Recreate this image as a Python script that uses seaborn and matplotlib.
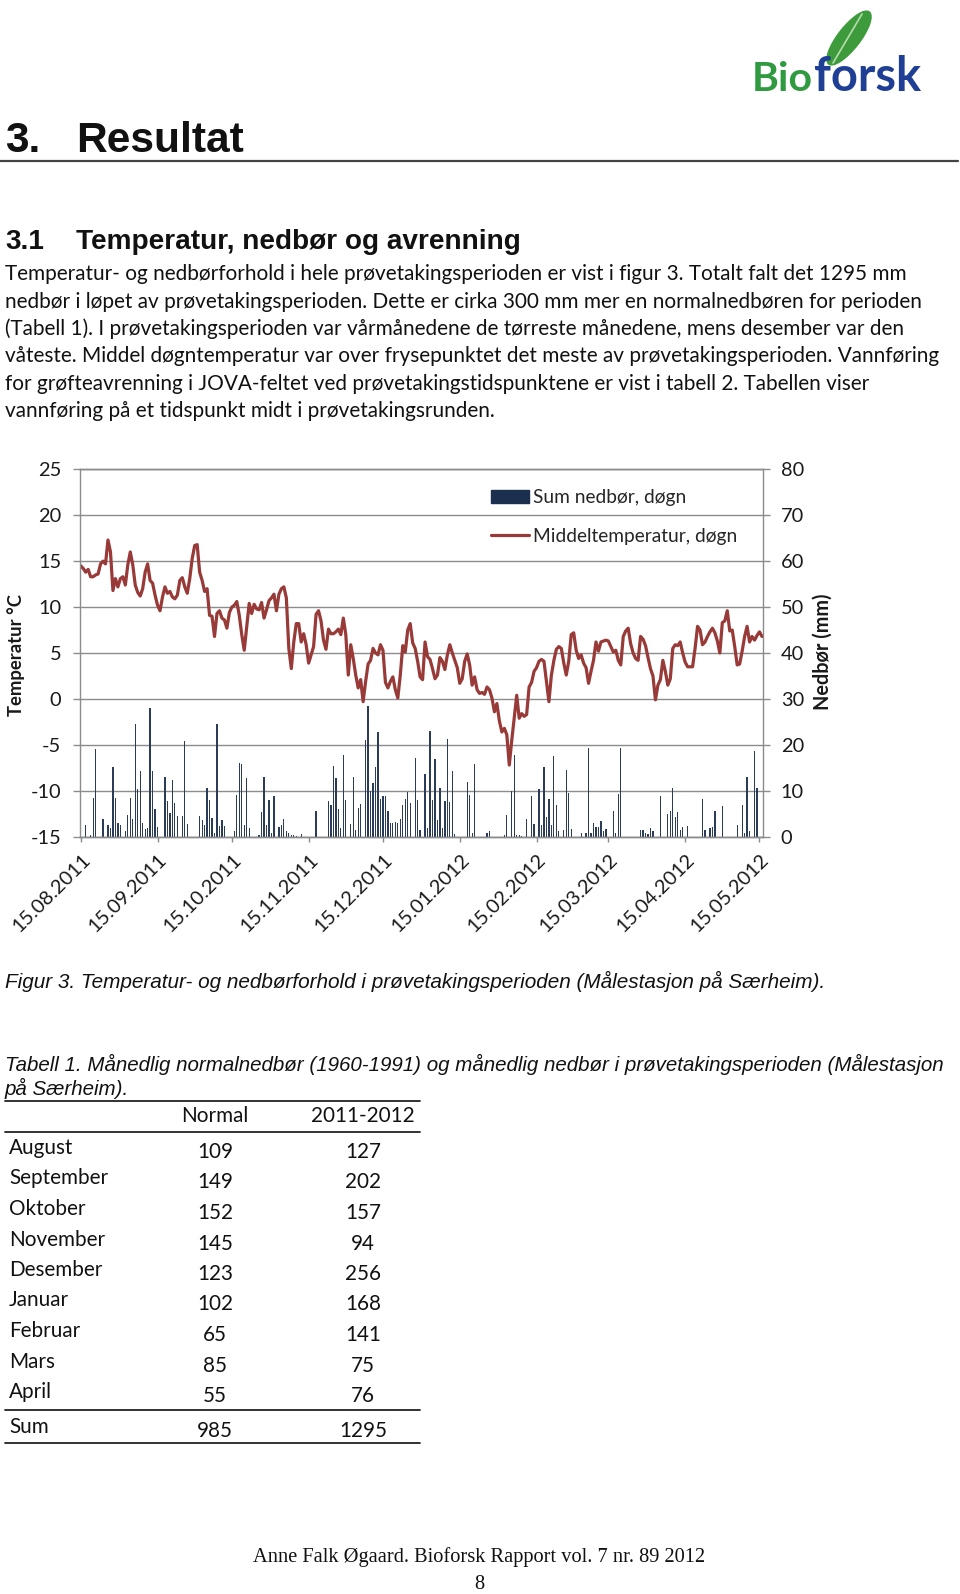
import numpy as np
import pandas as pd
import matplotlib
matplotlib.use("Agg")
import matplotlib.pyplot as plt
import seaborn as sns
from matplotlib.lines import Line2D
from matplotlib.patches import Patch, Ellipse
from matplotlib.transforms import ScaledTranslation

# ---------------- data ----------------
start_date = "2011-08-15"
# daily mean temperature (degC), 15.08.2011 - 16.05.2012
temp = [
    14.5, 14.2, 13.8, 14.1, 13.3, 13.3, 13.5, 13.6, 14.7, 15.0,
    14.7, 17.3, 16.0, 11.8, 13.1, 12.2, 13.1, 13.3, 12.4, 14.6,
    16.0, 14.6, 12.4, 11.6, 11.2, 12.0, 13.8, 14.7, 12.9, 12.6,
    11.3, 10.2, 9.6, 11.1, 12.2, 11.5, 11.7, 11.1, 10.9, 11.3,
    12.9, 13.2, 12.2, 11.5, 13.1, 15.3, 16.7, 16.8, 13.8, 12.9,
    11.7, 12.0, 9.1, 9.0, 6.8, 9.3, 9.6, 8.8, 8.6, 7.7,
    9.4, 10.0, 10.2, 10.6, 9.1, 7.0, 5.3, 7.8, 10.4, 9.3,
    10.3, 9.8, 9.7, 10.5, 8.8, 9.7, 10.7, 11.0, 11.4, 9.6,
    11.4, 12.0, 12.2, 11.0, 5.5, 3.3, 6.2, 8.2, 8.2, 6.2,
    7.1, 5.9, 3.9, 4.8, 5.7, 9.2, 9.6, 8.5, 6.4, 5.4,
    7.6, 7.1, 7.1, 7.3, 7.6, 7.0, 8.8, 7.0, 2.6, 5.9,
    4.4, 2.6, 1.2, 2.1, -0.3, 1.9, 3.8, 4.2, 5.5, 5.0,
    4.8, 5.9, 5.3, 1.8, 1.2, 1.9, 2.4, 1.0, 0.1, 2.6,
    5.8, 5.1, 7.5, 8.2, 6.1, 5.5, 4.1, 2.4, 2.1, 6.2,
    4.6, 4.3, 3.3, 2.2, 2.6, 4.5, 4.1, 3.2, 4.8, 5.9,
    5.0, 4.2, 3.4, 1.7, 2.2, 4.1, 4.9, 3.7, 1.5, 2.4,
    1.0, 0.6, 0.7, 0.5, 1.3, 1.0, 0.1, -1.4, -0.5, -2.4,
    -3.6, -3.2, -3.9, -7.2, -4.5, -2.0, 0.4, -2.1, -1.6, -1.9,
    -1.7, 1.3, 1.8, 3.0, 3.4, 4.1, 4.3, 4.1, 1.9, -0.3,
    2.6, 4.2, 5.4, 5.7, 5.5, 3.9, 2.6, 4.1, 7.0, 7.2,
    5.3, 4.4, 4.8, 3.9, 3.4, 1.7, 3.0, 4.2, 6.2, 5.2,
    6.2, 6.3, 6.4, 6.3, 5.7, 5.1, 5.3, 4.2, 3.7, 6.8,
    7.4, 7.7, 6.0, 5.0, 4.4, 4.2, 6.8, 6.5, 5.8, 4.5,
    3.3, 2.5, -0.1, 1.5, 2.1, 4.2, 3.0, 1.5, 2.2, 5.5,
    5.9, 5.8, 6.2, 5.0, 4.0, 3.5, 3.5, 3.5, 5.5, 7.9,
    7.5, 5.9, 6.2, 6.8, 7.3, 7.7, 7.2, 6.3, 5.0, 8.3,
    8.5, 9.6, 7.4, 7.5, 5.7, 3.7, 3.8, 5.2, 6.8, 7.9,
    6.2, 6.8, 6.4, 6.9, 7.3, 6.8,
]
# daily precipitation: day index (days after 15.08.2011) and mm
rain_day = [
    0, 2, 4, 5, 6, 9, 11, 12, 13, 14, 15, 16, 18, 19, 20, 21, 22, 23, 24, 25,
    26, 27, 28, 29, 30, 31, 34, 35, 36, 37, 38, 39, 41, 42, 43, 48, 49, 50, 51, 52,
    53, 54, 55, 56, 57, 58, 62, 63, 64, 65, 66, 67, 68, 72, 73, 74, 75, 76, 77, 78,
    80, 81, 82, 83, 84, 85, 86, 87, 89, 95, 100, 101, 102, 103, 104, 105, 106, 107, 109, 110,
    111, 112, 113, 115, 116, 117, 118, 119, 120, 121, 122, 123, 124, 125, 126, 127, 128, 129, 130, 131,
    132, 133, 135, 136, 137, 139, 140, 141, 142, 143, 144, 145, 146, 147, 148, 149, 150, 151, 156, 157,
    158, 159, 164, 165, 171, 172, 174, 175, 176, 177, 178, 180, 182, 183, 185, 186, 187, 188, 189, 190,
    191, 192, 193, 195, 196, 197, 198, 202, 204, 205, 206, 207, 208, 209, 210, 211, 212, 215, 216, 217,
    218, 226, 227, 228, 229, 230, 231, 234, 237, 238, 239, 240, 241, 242, 243, 245, 251, 252, 254, 255,
    256, 259, 265, 267, 268, 269, 270, 272, 273,
]
rain_mm = [
    0.8, 2.6, 0.4, 8.4, 19.0, 3.8, 2.6, 1.9, 15.1, 8.4, 3.0, 2.6, 1.2, 4.8, 8.4, 3.8, 24.6, 10.4, 14.2, 3.0,
    1.7, 2.0, 28.0, 14.2, 6.0, 2.2, 13.0, 7.7, 5.1, 12.4, 7.3, 4.4, 4.6, 20.9, 2.8, 4.6, 3.7, 2.6, 10.6, 8.0,
    4.1, 0.8, 24.6, 2.4, 3.6, 2.4, 1.2, 9.0, 16.1, 15.9, 2.6, 12.8, 1.9, 0.4, 5.4, 13.0, 2.5, 8.0, 0.8, 8.8,
    2.1, 2.6, 3.8, 1.3, 0.7, 0.4, 0.3, 0.2, 0.6, 5.5, 7.8, 6.8, 15.3, 12.8, 6.1, 1.9, 17.7, 7.9, 2.8, 13.1,
    1.4, 6.2, 7.1, 21.1, 28.5, 10.0, 11.7, 15.1, 22.8, 8.2, 8.8, 8.8, 5.5, 3.0, 3.0, 3.3, 3.0, 3.8, 6.8, 8.2,
    9.7, 7.3, 17.1, 8.0, 1.5, 13.6, 2.0, 23.1, 7.9, 17.0, 3.7, 10.7, 1.9, 7.8, 21.2, 7.5, 14.2, 0.6, 12.0, 9.1,
    0.8, 15.8, 0.8, 1.2, 0.3, 4.8, 9.9, 17.8, 0.3, 0.3, 0.2, 3.9, 8.8, 2.8, 10.4, 2.6, 15.1, 4.2, 8.3, 2.6,
    17.6, 6.8, 1.3, 1.4, 14.6, 9.5, 1.7, 0.9, 0.9, 19.3, 0.9, 3.0, 2.1, 2.1, 3.5, 1.2, 1.7, 5.5, 0.8, 9.3,
    19.3, 1.5, 1.4, 0.8, 0.6, 1.9, 1.3, 8.8, 4.9, 5.5, 10.7, 4.2, 5.3, 1.5, 2.2, 2.4, 8.3, 1.4, 2.0, 2.1,
    5.5, 6.6, 2.5, 6.8, 0.8, 13.0, 1.3, 18.7, 10.6,
]
x_tick_labels = ["15.08.2011", "15.09.2011", "15.10.2011", "15.11.2011", "15.12.2011",
                 "15.01.2012", "15.02.2012", "15.03.2012", "15.04.2012", "15.05.2012"]
temp_ticks = [-15, -10, -5, 0, 5, 10, 15, 20, 25]
rain_ticks = [0, 10, 20, 30, 40, 50, 60, 70, 80]
legend_labels = ["Sum nedbør, døgn", "Middeltemperatur, døgn"]

table_months = ["August", "September", "Oktober", "November", "Desember",
                "Januar", "Februar", "Mars", "April"]
table_normal = [109, 149, 152, 145, 123, 102, 65, 85, 55]
table_2011 = [127, 202, 157, 94, 256, 168, 141, 75, 76]
table_sum = [985, 1295]

paragraph = [
    "Temperatur- og nedbørforhold i hele prøvetakingsperioden er vist i figur 3. Totalt falt det 1295 mm",
    "nedbør i løpet av prøvetakingsperioden. Dette er cirka 300 mm mer en normalnedbøren for perioden",
    "(Tabell 1). I prøvetakingsperioden var vårmånedene de tørreste månedene, mens desember var den",
    "våteste. Middel døgntemperatur var over frysepunktet det meste av prøvetakingsperioden. Vannføring",
    "for grøfteavrenning i JOVA-feltet ved prøvetakingstidspunktene er vist i tabell 2. Tabellen viser",
    "vannføring på et tidspunkt midt i prøvetakingsrunden.",
]

# ---------------- figure ----------------
W, H = 960, 1594
sns.set_theme(style="white")
plt.rcParams['font.family'] = ['Lato', 'DejaVu Sans']

fig = plt.figure(figsize=(9.6, 15.94), dpi=100)
fig.patch.set_facecolor("white")
renderer = fig.canvas.get_renderer()

def fx(px):
    return px / W

def fy(py):
    return 1 - py / H

def fit_size(s, target, size=12, **kw):
    t = fig.text(0, 0, s, fontsize=size, **kw)
    w = t.get_window_extent(renderer).width
    t.remove()
    return size * target / w

def put(x, y, s, width=None, size=12, rot=0, **kw):
    if width is not None:
        size = fit_size(s, width, size, **{k: v for k, v in kw.items() if k in ("family", "weight", "style")})
    return fig.text(fx(x), fy(y), s, fontsize=size, rotation=rot, **kw)

# overlay for page decorations (pixel coordinates)
over = fig.add_axes([0, 0, 1, 1])
over.set_xlim(0, W)
over.set_ylim(H, 0)
over.axis("off")
over.patch.set_visible(False)

# ---- logo ----
over.add_patch(Ellipse((849, 38), 22, 66, angle=38, color="#3d9b3c"))
over.plot([833, 862], [63, 14], color="#b8dcb0", lw=1.2)
put(752, 91, "Bio", width=61, size=30, weight="bold", color="#2f9a40", family=["Lato", "DejaVu Sans"])
put(814, 91, "forsk", width=107, size=30, weight="bold", color="#1e3f94", family=["Lato", "DejaVu Sans"])

# ---- headings ----
head_family = ["Liberation Sans", "DejaVu Sans"]
hs = fit_size("Resultat", 168, 30, family=head_family, weight="bold")
put(5, 152, "3.", size=hs, weight="bold", family=head_family, color="#111111", va="baseline")
put(76, 152, "Resultat", size=hs, weight="bold", family=head_family, color="#111111", va="baseline")
over.plot([0, 958], [161, 161], color="#444444", lw=1.6)

h2 = fit_size("Temperatur, nedbør og avrenning", 446, 18, family=head_family, weight="bold")
put(5, 249, "3.1", size=h2, weight="bold", family=head_family, color="#111111", va="baseline")
put(76, 249, "Temperatur, nedbør og avrenning", size=h2, weight="bold", family=head_family,
    color="#111111", va="baseline")

ps = fit_size(paragraph[3], 935, 14)
for i, line in enumerate(paragraph):
    put(5, 280.5 + i * 27.3, line, size=ps, color="#111111", va="baseline")

# ---------------- chart ----------------
L, R, T, B = 80, 762.7, 469.3, 836.7
ax_t = fig.add_axes([fx(L), fy(B), (R - L) / W, (B - T) / H])
ax_r = ax_t.twinx()
ax_t.set_zorder(3)
ax_t.patch.set_visible(False)

bar_c = "#2a3c58"
legend_bar_c = "#1b2f4f"
line_c = "#983a38"
grid_c = "#8c8c8c"

days = np.arange(len(temp))
tick_pos = (pd.to_datetime(x_tick_labels, format="%d.%m.%Y") - pd.to_datetime(start_date)).days

sns.barplot(x=rain_day, y=rain_mm, native_scale=True, orient="x", width=0.5,
            color=bar_c, saturation=1, errorbar=None, linewidth=0, ax=ax_r)
sns.lineplot(x=days, y=temp, color=line_c, linewidth=2.3, legend=False, ax=ax_t)

ax_t.set_xlim(-0.3, 275.3)
ax_t.set_ylim(-15, 25)
ax_r.set_ylim(0, 80)
for a in (ax_t, ax_r):
    a.set_xlabel("")
    a.set_ylabel("")

ax_r.yaxis.grid(True, color=grid_c, lw=1.0)
ax_r.set_axisbelow(True)
ax_t.grid(False)

tfs = fit_size("15.08.2011", 102, 12)
ax_t.set_yticks(temp_ticks, labels=[str(v) for v in temp_ticks])
ax_r.set_yticks(rain_ticks, labels=[str(v) for v in rain_ticks])
ax_t.set_xticks(tick_pos, labels=x_tick_labels, rotation=45, ha="right", rotation_mode="anchor")

ax_t.tick_params(axis="y", direction="out", length=5, width=1, color=grid_c, pad=8.5,
                 labelsize=tfs, labelcolor="#1a1a1a", left=True)
ax_r.tick_params(axis="y", direction="out", length=5, width=1, color=grid_c, pad=8,
                 labelsize=tfs, labelcolor="#1a1a1a", right=True)
ax_t.tick_params(axis="x", direction="out", length=3.5, width=1, color=grid_c, pad=7,
                 labelsize=tfs, labelcolor="#1a1a1a", bottom=True)
for lbl in ax_t.get_xticklabels():
    lbl.set_transform(lbl.get_transform() + ScaledTranslation(0.5 / 100, 0, fig.dpi_scale_trans))

for a in (ax_t, ax_r):
    for s in a.spines.values():
        s.set_color(grid_c)
        s.set_linewidth(1.0)
ax_t.spines["right"].set_visible(False)
ax_r.spines["left"].set_visible(False)

lfs = fit_size(legend_labels[1], 204, 12)
lfs_px = lfs * 100 / 72
handles = [Patch(color=legend_bar_c), Line2D([], [], color=line_c, lw=2.3)]
fig.legend(handles, legend_labels, loc="upper left", bbox_to_anchor=(fx(491), fy(489)),
           frameon=False, fontsize=lfs, handlelength=38 / lfs_px, handletextpad=4 / lfs_px,
           labelspacing=1.15, borderpad=0, borderaxespad=0)

put(16, 655, "Temperatur °C", size=fit_size("Temperatur °C", 122, 12, weight="bold"),
    rot=90, weight="bold", ha="center", va="center", color="#1a1a1a")
put(823, 652, "Nedbør (mm)", size=fit_size("Nedbør (mm)", 116, 12, weight="bold"),
    rot=90, weight="bold", ha="center", va="center", color="#1a1a1a")

# ---------------- caption & table ----------------
cap_family = ["Liberation Sans", "DejaVu Sans"]
put(5, 988, "Figur 3. Temperatur- og nedbørforhold i prøvetakingsperioden (Målestasjon på Særheim).",
    width=824, size=14, style="italic", family=cap_family, color="#111111", va="baseline")
cs = fit_size("Tabell 1. Månedlig normalnedbør (1960-1991) og månedlig nedbør i prøvetakingsperioden (Målestasjon",
              945, 14, style="italic", family=cap_family)
put(5, 1071, "Tabell 1. Månedlig normalnedbør (1960-1991) og månedlig nedbør i prøvetakingsperioden (Målestasjon",
    size=cs, style="italic", family=cap_family, color="#111111", va="baseline")
put(5, 1095, "på Særheim).", size=cs, style="italic", family=cap_family, color="#111111", va="baseline")

for yy in (1101, 1132, 1409.5, 1443):
    over.plot([5, 420], [yy, yy], color="#222222", lw=1.3)

tbs = fit_size("September", 99, 14)
put(215, 1122, "Normal", size=tbs, ha="center", va="baseline", color="#111111")
put(363, 1122, "2011-2012", size=tbs, ha="center", va="baseline", color="#111111")
for i, (m, n, v) in enumerate(zip(table_months, table_normal, table_2011)):
    yb = 1154 + i * 30.5
    put(9, yb, m, size=tbs, va="baseline", color="#111111")
    put(215, yb + 4, str(n), size=tbs, ha="center", va="baseline", color="#111111")
    put(363, yb + 4, str(v), size=tbs, ha="center", va="baseline", color="#111111")
put(9, 1433, "Sum", size=tbs, va="baseline", color="#111111")
put(215, 1437, str(table_sum[0]), size=tbs, ha="center", va="baseline", color="#111111")
put(363, 1437, str(table_sum[1]), size=tbs, ha="center", va="baseline", color="#111111")

# ---------------- footer ----------------
serif = ["Liberation Serif", "DejaVu Serif"]
foot = "Anne Falk Øgaard. Bioforsk Rapport vol. 7 nr. 89 2012"
fsz = fit_size(foot, 452, 14, family=serif)
put(479, 1562, foot, size=fsz, family=serif, ha="center", va="baseline", color="#111111")
put(479, 1589, "8", size=fsz, family=serif, ha="center", va="baseline", color="#111111")

fig.savefig("out.png", dpi=100, facecolor="white")
